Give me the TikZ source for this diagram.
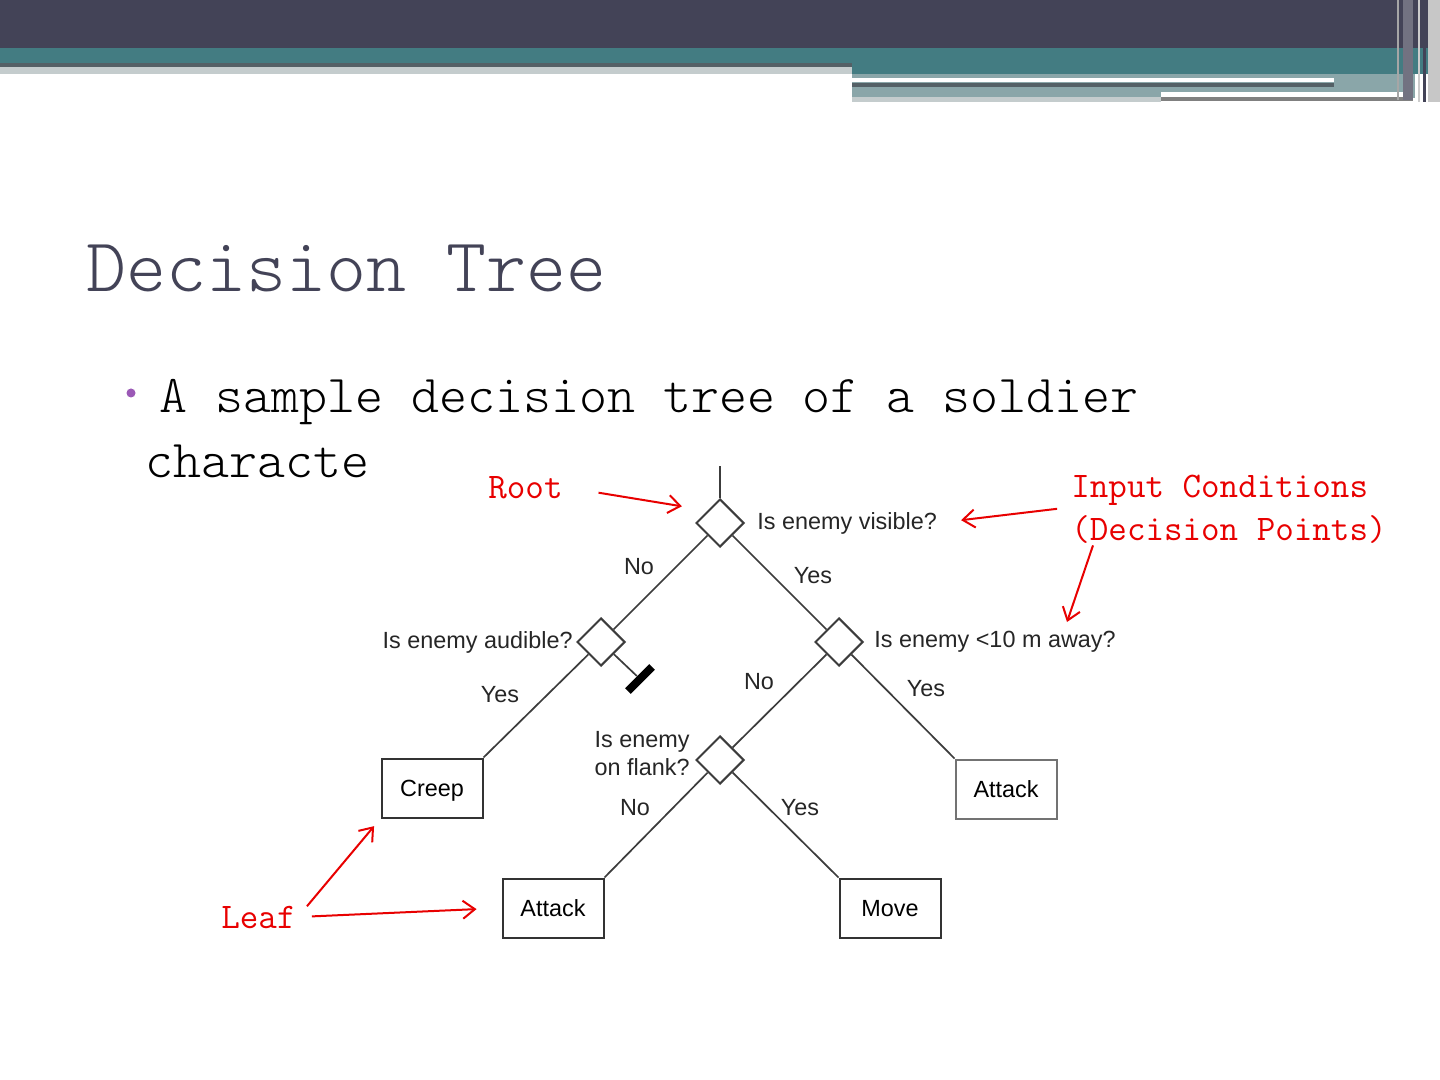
\documentclass[tikz,border=0pt]{standalone}
\usepackage{fontspec}
\usepackage{tikz}
\usetikzlibrary{arrows.meta,shapes.geometric}
\newfontfamily\diagfont{Liberation Sans}
\newfontfamily\slidemono{Latin Modern Mono Light}
\definecolor{slatebar}{RGB}{67,67,87}
\definecolor{tealbar}{RGB}{67,124,130}
\definecolor{greyteal}{RGB}{138,166,169}
\definecolor{barshade}{RGB}{84,96,102}
\definecolor{barlight}{RGB}{196,204,205}
\definecolor{bulletpurple}{RGB}{155,89,182}
\definecolor{inkred}{RGB}{232,0,0}
\definecolor{treeline}{RGB}{60,60,60}
\tikzset{
  condnode/.style = {diamond,draw=treeline,line width=1pt,minimum size=24pt,inner sep=0pt},
  leafnode/.style = {draw=black!80,line width=1pt,minimum width=50.5pt,minimum height=29.5pt,
                     inner sep=0pt,text height=8.4pt,text depth=0pt,
                     font=\diagfont\fontsize{11.7}{14}\selectfont},
  branch/.style   = {treeline,line width=0.85pt},
  asktext/.style  = {inner sep=0pt,text=black!85,font=\diagfont\fontsize{11.7}{14}\selectfont},
  redlbl/.style   = {inner sep=1pt,text=inkred,font=\ttfamily\fontsize{18}{21}\selectfont},
  redarr/.style   = {-{Straight Barb[length=6pt,width=9pt]},inkred,line width=1pt}
}

\begin{document}
\begin{tikzpicture}[x=0.5pt,y=-0.5pt]
  \useasboundingbox (0,0) rectangle (1440,1080);
  \fill[white] (0,0) rectangle (1440,1080);
  % slide banner
  \fill[slatebar] (0,0) rectangle (1440,48);
  \fill[tealbar]  (0,48) rectangle (852,63);
  \fill[barshade] (0,63) rectangle (852,67);
  \fill[barlight] (0,67) rectangle (852,74);
  \fill[tealbar]  (852,48) rectangle (1440,74);
  \fill[greyteal] (852,74) rectangle (1415,98);
  \fill[white]    (852,78) rectangle (1334,82);
  \fill[barshade] (852,83) rectangle (1334,87);
  \fill[barlight] (852,97) rectangle (1161,102);
  \fill[white]    (1161,92) rectangle (1413,97);
  \fill[gray]     (1161,97) rectangle (1413,101);
  \fill[black!22] (1428,0) rectangle (1440,102);
  \fill[slatebar!75] (1403,0) rectangle (1413,100);
  \fill[black!35] (1397,0) rectangle (1399,100);
  \fill[black!20] (1418,0) rectangle (1420,102);
  \fill[slatebar] (1423,0) rectangle (1426,102);

  % title and bullet
  \node[anchor=base west,inner sep=0pt,text=slatebar,font=\slidemono\fontsize{38.1}{41}\selectfont]
    (title) at (86,292) {Decision Tree};
  \fill[bulletpurple] (131,393) circle (4.5);
  \node[anchor=base west,inner sep=0pt,font=\slidemono\fontsize{26.65}{30}\selectfont]
    (line1) at (159,413) {A sample decision tree of a soldier};
  \node[anchor=base west,inner sep=0pt,font=\slidemono\fontsize{26.65}{30}\selectfont]
    (line2) at (145,478) {characte};

  % tree
  \coordinate (stem) at (720,466);
  \node[condnode] (root)    at (720,523) {};
  \node[condnode] (audible) at (601,642) {};
  \node[condnode] (nearby)  at (839,642) {};
  \node[condnode] (flank)   at (720,760) {};
  \node[leafnode] (creep) at (432,788) {Creep};
  \node[leafnode,draw=black!55] (atkR) at (1006,789) {Attack};
  \node[leafnode] (atkL) at (553,908) {Attack};
  \node[leafnode] (move) at (890,908) {Move};
  \node[fill=black,minimum width=17pt,minimum height=4pt,inner sep=0pt,rotate=45] (stop) at (640,679) {};

  \draw[branch] (stem) -- (root);
  \draw[branch] (root) -- (audible);
  \draw[branch] (root) -- (nearby);
  \draw[branch] (audible) -- (creep.north east);
  \draw[branch] (audible) -- (stop);
  \draw[branch] (nearby) -- (flank);
  \draw[branch] (nearby) -- (atkR.north west);
  \draw[branch] (flank) -- (atkL.north east);
  \draw[branch] (flank) -- (move.north west);

  \node[asktext,anchor=west] (askvis) at (757,523) {Is enemy visible?};
  \node[asktext,anchor=east] (askaud) at (573,642) {Is enemy audible?};
  \node[asktext,anchor=west] (askfar) at (874,642) {Is enemy <10 m away?};
  \node[asktext,anchor=east,align=left] (askflank) at (690,754) {Is enemy\\on flank?};
  \node[asktext] (no1)  at (639,567) {No};
  \node[asktext] (yes1) at (813,576) {Yes};
  \node[asktext] (yes2) at (500,695) {Yes};
  \node[asktext] (no2)  at (759,682) {No};
  \node[asktext] (yes3) at (926,689) {Yes};
  \node[asktext] (no3)  at (635,808) {No};
  \node[asktext] (yes4) at (800,808) {Yes};

  % red notes
  \node[redlbl,anchor=base west] (rootlbl) at (486,498) {Root};
  \node[redlbl,anchor=base west] (inlbl)   at (1069,497) {Input Conditions};
  \node[redlbl,anchor=base west] (declbl)  at (1069,540) {(Decision Points)};
  \node[redlbl,anchor=base west] (leaflbl) at (219,928) {Leaf};
  \coordinate (condtip) at (1067,622);
  \draw[redarr,shorten <=17pt,shorten >=13pt] (rootlbl.east) -- (root.north west);
  \draw[redarr,shorten <=6pt,shorten >=12pt] (inlbl.south west) -- (askvis.east);
  \draw[redarr] ([xshift=12pt]declbl.south west) -- (condtip);
  \draw[redarr,shorten <=7pt,shorten >=5pt] (leaflbl.east) -- (creep.south west);
  \draw[redarr,shorten <=7pt,shorten >=12.5pt] (leaflbl.east) -- (atkL.west);
\end{tikzpicture}
\end{document}
